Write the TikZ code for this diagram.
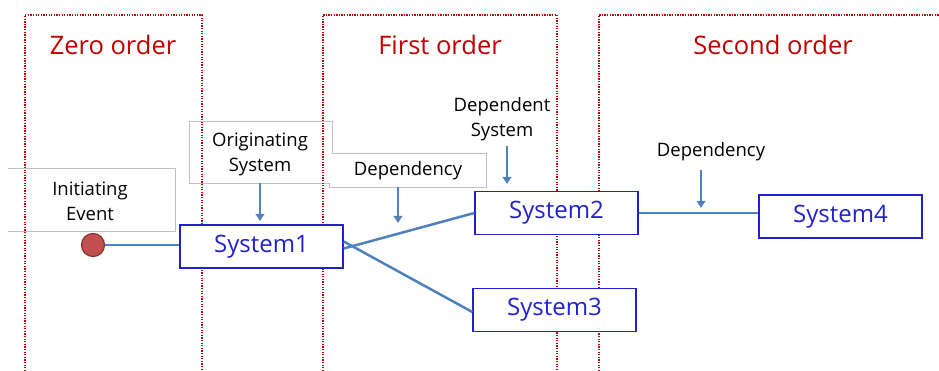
\documentclass[tikz,border=0pt]{standalone}
\usepackage{fontspec}
\setmainfont{Open Sans}
\usetikzlibrary{arrows.meta}
\definecolor{ordred}{HTML}{C00000}
\definecolor{sysblue}{HTML}{2222CC}
\definecolor{linkblue}{HTML}{4F81BD}
\definecolor{boxgray}{HTML}{BFBFBF}
\definecolor{evred}{HTML}{C0504D}
\definecolor{evdark}{HTML}{8C2F2C}
\tikzset{
  orderframe/.style={draw=ordred, line width=1.8pt, dash pattern=on 1.3pt off 1.3pt},
  ordertitle/.style={text=ordred, font=\fontsize{25.5}{30}\selectfont, inner sep=0pt},
  sysbox/.style={draw=sysblue, line width=1.4pt, fill=white, minimum width=163pt, minimum height=43pt, text=sysblue, font=\fontsize{24}{28}\selectfont, inner sep=0pt},
  graybox/.style={draw=boxgray, line width=0.8pt, fill=white},
  lbl/.style={text=black, font=\fontsize{18.5}{25}\selectfont, inner sep=0pt, align=center},
  link/.style={draw=linkblue, line width=2.5pt},
  pointer/.style={draw=linkblue, line width=1.8pt, -{Triangle[length=7pt,width=8.5pt]}},
}
\begin{document}
\begin{tikzpicture}[x=1pt,y=-1pt]
\useasboundingbox (0,0) rectangle (939,371);
% gray label boxes
\draw[boxgray, line width=0.8pt, fill=white] (8,168) -- (175,168) -- (175,231) -- (8,231);
\draw[graybox] (189,121) rectangle (332,183);
\fill[white] (329,153) rectangle (486,187);
\draw[boxgray, line width=0.8pt] (329,183) -- (329,187) -- (486,187) -- (486,153) -- (332,153);
% order frames
\draw[orderframe] (25,371) -- (25,15) -- (202,15) -- (202,371);
\draw[orderframe] (323,371) -- (323,15) -- (557,15) -- (557,371);
\draw[orderframe] (599,371) -- (599,15) -- (939,15);
\node[ordertitle] (t0) at (113,45) {Zero order};
\node[ordertitle] (t1) at (440,45) {First order};
\node[ordertitle] (t2) at (773,45) {Second order};
% labels
\node[lbl] (lInit) at (90,201) {Initiating\\Event};
\node[lbl] (lOrig) at (260,154) {Originating\\System};
\node[lbl] (lDep1) at (408,171) {Dependency};
\node[lbl] (lDepS) at (502,119) {Dependent\\System};
\node[lbl] (lDep2) at (711,152) {Dependency};
% systems
\node[sysbox] (s1) at (261.5,246.5) {System1};
\node[sysbox] (s2) at (556.5,213) {System2};
\node[sysbox] (s3) at (554.5,310) {System3};
\node[sysbox] (s4) at (840.5,216.5) {System4};
% event
\node[circle, draw=evdark, line width=1.2pt, fill=evred, minimum size=23pt, inner sep=0pt] (ev) at (93,245) {};
% links
\draw[link] (ev.east) -- (s1.west |- ev.east);
\draw[link] ([yshift=-2pt]s1.east) -- (s2.west);
\draw[link] ([yshift=5pt]s1.east) -- ([yshift=-2pt]s3.west);
\draw[link] (s2.east) -- (s4.west |- s2.east);
% pointers
\coordinate (p1a) at (260,183); \coordinate (p1b) at (260,221);
\coordinate (p2a) at (398,187); \coordinate (p2b) at (398,223);
\coordinate (p3a) at (507,146); \coordinate (p3b) at (507,184);
\coordinate (p4a) at (701,170); \coordinate (p4b) at (701,208);
\draw[pointer] (p1a) -- (p1b);
\draw[pointer] (p2a) -- (p2b);
\draw[pointer] (p3a) -- (p3b);
\draw[pointer] (p4a) -- (p4b);
\end{tikzpicture}
\end{document}
